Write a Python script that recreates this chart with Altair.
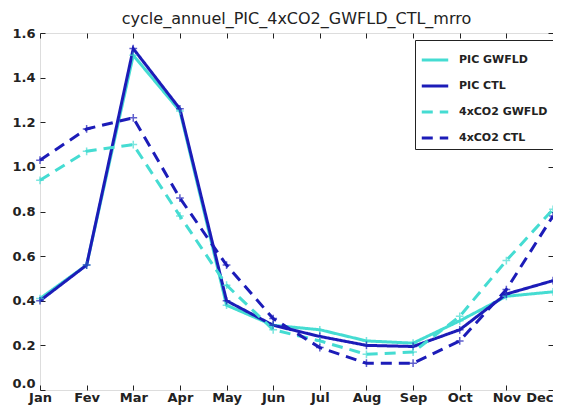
import altair as alt
import pandas as pd

months = ["Jan", "Fev", "Mar", "Apr", "May", "Jun", "Jul", "Aug", "Sep", "Oct", "Nov", "Dec"]
series_names = ["PIC GWFLD", "PIC CTL", "4xCO2 GWFLD", "4xCO2 CTL"]
pic_gwfld = [0.41, 0.56, 1.50, 1.25, 0.38, 0.29, 0.27, 0.22, 0.21, 0.31, 0.42, 0.44]
pic_ctl = [0.40, 0.56, 1.53, 1.26, 0.40, 0.29, 0.24, 0.20, 0.195, 0.27, 0.43, 0.49]
co2_gwfld = [0.94, 1.07, 1.10, 0.78, 0.47, 0.27, 0.22, 0.16, 0.17, 0.33, 0.58, 0.81]
co2_ctl = [1.03, 1.17, 1.22, 0.86, 0.56, 0.32, 0.19, 0.12, 0.12, 0.22, 0.45, 0.78]
colors = ["#45dcd2", "#1c1cb8", "#45dcd2", "#1c1cb8"]
dashes = [[1, 0], [1, 0], [11, 7], [11, 7]]

rows = []
for name, vals in zip(series_names, [pic_gwfld, pic_ctl, co2_gwfld, co2_ctl]):
    for i, v in enumerate(vals):
        rows.append({"series": name, "order": series_names.index(name), "m": i, "value": v})
df = pd.DataFrame(rows)

W, H = 513, 357
month_expr = "[" + ",".join("'%s'" % m for m in months) + "][datum.value]"

xscale = alt.Scale(domain=[0, 11], nice=False, zero=False)
yscale = alt.Scale(domain=[0, 1.6], nice=False)
tickvals_x = list(range(12))
tickvals_y = [0, 0.2, 0.4, 0.6, 0.8, 1.0, 1.2, 1.4, 1.6]

color_enc = alt.Color("series:N", scale=alt.Scale(domain=series_names, range=colors),
                      sort=series_names,
                      legend=alt.Legend(title=None, orient="none", legendX=375, legendY=7,
                                        strokeColor="#222", fillColor="white", padding=5,
                                        rowPadding=5, labelFontSize=11, labelFont="DejaVu Sans",
                                        labelFontWeight="bold", labelColor="#222",
                                        symbolType="stroke", symbolSize=700, symbolStrokeWidth=3,
                                        labelLimit=200, labelOffset=9))
dash_enc = alt.StrokeDash("series:N", scale=alt.Scale(domain=series_names, range=dashes),
                          sort=series_names, legend=None)

base = alt.Chart(df)

lab_axis = dict(grid=False, ticks=False, domain=False, labelFontSize=13,
                labelFontWeight="bold", labelColor="#222", labelFont="DejaVu Sans")
tick_axis = dict(labels=False, domain=False, grid=False, tickSize=5, tickColor="#222", tickWidth=1)

lines = base.mark_line(strokeWidth=3).encode(
    x=alt.X("m:Q", scale=xscale, title=None,
            axis=alt.Axis(orient="bottom", values=tickvals_x, labelExpr=month_expr,
                          labelPadding=1,
                          labelAlign={"condition": {"test": "datum.value == 11", "value": "right"},
                                      "value": "center"},
                          **lab_axis)),
    y=alt.Y("value:Q", scale=yscale, title=None,
            axis=alt.Axis(orient="left", values=tickvals_y, format=".1f", labelPadding=5,
                          labelBaseline={"condition": {"test": "datum.value == 0", "value": "bottom"},
                                         "value": "middle"},
                          **lab_axis)),
    color=color_enc,
    strokeDash=dash_enc,
    order="order:Q",
    detail="series:N",
)

plus = "M -1 0 L 1 0 M 0 -1 L 0 1"
markers = base.mark_point(shape=plus, filled=False, size=60, strokeWidth=1.5).encode(
    x=alt.X("m:Q", scale=xscale, title=None,
            axis=alt.Axis(orient="top", offset=-H, values=tickvals_x, **tick_axis)),
    y=alt.Y("value:Q", scale=yscale, title=None,
            axis=alt.Axis(orient="right", offset=-W, values=tickvals_y, **tick_axis)),
    color=alt.Color("series:N", scale=alt.Scale(domain=series_names, range=colors), legend=None),
)

ticks2 = base.mark_point(opacity=0).encode(
    x=alt.X("m:Q", scale=xscale, title=None,
            axis=alt.Axis(orient="bottom", offset=-H, values=tickvals_x, **tick_axis)),
    y=alt.Y("value:Q", scale=yscale, title=None,
            axis=alt.Axis(orient="left", offset=-W, values=tickvals_y, **tick_axis)),
)

chart = alt.layer(lines, markers, ticks2).resolve_axis(
    x="independent", y="independent"
).properties(
    width=W, height=H,
    title=alt.Title("cycle_annuel_PIC_4xCO2_GWFLD_CTL_mrro", fontSize=16, fontWeight="normal",
                    font="DejaVu Sans", color="#222", anchor="middle", offset=0),
    autosize=alt.AutoSizeParams(type="none"),
    padding={"left": 32, "top": 25, "right": 0, "bottom": 16},
).configure_view(stroke="#222", strokeWidth=1.5).configure(background="white")

chart.save("out.html", embed_options={"renderer": "svg", "actions": False})
